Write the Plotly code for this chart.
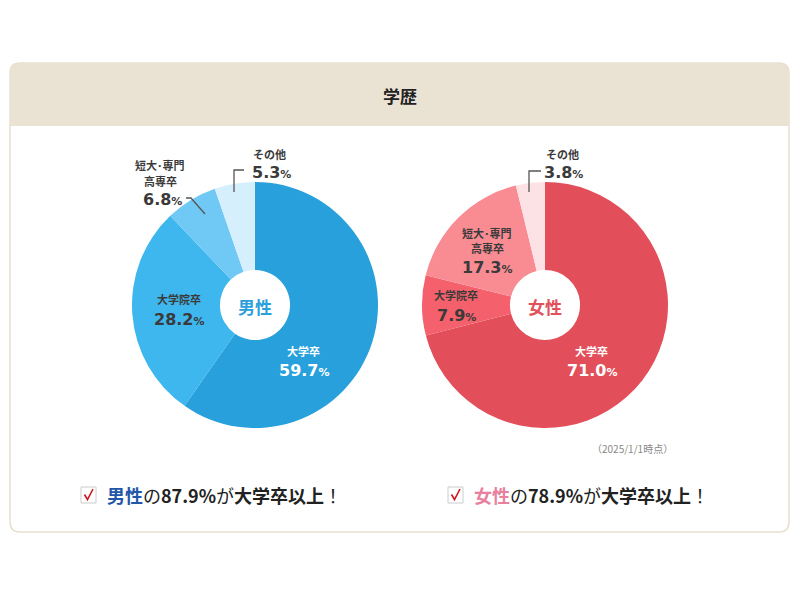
import plotly.graph_objects as go

# --- Data ---
CATEGORIES = ["大学卒", "大学院卒", "短大・専門高専卒", "その他"]
MALE_VALUES = [59.7, 28.2, 6.8, 5.3]
FEMALE_VALUES = [71.0, 7.9, 17.3, 3.8]
MALE_COLORS = ["#28A0DC", "#3EB6EE", "#70C8F5", "#D5EFFC"]
FEMALE_COLORS = ["#E24F5B", "#F4606B", "#F98B93", "#FDE2E5"]
MALE_ABOVE = 87.9    # 大学卒以上
FEMALE_ABOVE = 78.9
AS_OF = "（2025/1/1時点）"
TITLE = "学歴"

# page body has an 8px margin, so the figure is a bit smaller than the window
OFF = 8
W, H = 800 - 2 * OFF, 600 - 2 * OFF
FONT = "Noto Sans CJK JP"
NUM_FONT = "DejaVu Sans"
DARK = "#3a3a3a"


def px(x):
    return (x - OFF) / W


def py(y):
    return 1 - (y - OFF) / H


def domain(cx, cy, r):
    return dict(x=[px(cx - r), px(cx + r)], y=[py(cy + r), py(cy - r)])


def rounded_path(x0, y0, x1, y1, r, top_only=False):
    # rounded rectangle in window pixel coords -> paper coords
    p = [f"M {px(x0 + r)} {py(y0)}", f"L {px(x1 - r)} {py(y0)}",
         f"Q {px(x1)} {py(y0)} {px(x1)} {py(y0 + r)}"]
    if top_only:
        p += [f"L {px(x1)} {py(y1)}", f"L {px(x0)} {py(y1)}"]
    else:
        p += [f"L {px(x1)} {py(y1 - r)}", f"Q {px(x1)} {py(y1)} {px(x1 - r)} {py(y1)}",
              f"L {px(x0 + r)} {py(y1)}", f"Q {px(x0)} {py(y1)} {px(x0)} {py(y1 - r)}"]
    p += [f"L {px(x0)} {py(y0 + r)}", f"Q {px(x0)} {py(y0)} {px(x0 + r)} {py(y0)}", "Z"]
    return " ".join(p)


fig = go.Figure()

PIES = [
    (MALE_VALUES, MALE_COLORS, 255, 305),
    (FEMALE_VALUES, FEMALE_COLORS, 545, 305),
]
for vals, cols, cx, cy in PIES:
    fig.add_trace(go.Pie(
        labels=CATEGORIES, values=vals, sort=False, direction="clockwise",
        rotation=0, hole=0.285, textinfo="none",
        marker=dict(colors=cols, line=dict(width=0)),
        domain=domain(cx, cy, 123), showlegend=False,
        hovertemplate="%{label}: %{value}%<extra></extra>",
    ))

shapes = [
    dict(type="path", path=rounded_path(10, 63, 789, 532, 10), xref="paper", yref="paper",
         fillcolor="white", line=dict(color="#E8DFCF", width=1.5), layer="below"),
    dict(type="path", path=rounded_path(10, 63, 789, 126, 10, top_only=True), xref="paper", yref="paper",
         fillcolor="#EAE2D3", line=dict(width=0), layer="below"),
]

annotations = []


def ann(x, y, text, size, color=DARK, xanchor="center", bold=True, family=FONT):
    annotations.append(dict(
        x=px(x), y=py(y), xref="paper", yref="paper", text=f"<b>{text}</b>" if bold else text,
        showarrow=False, xanchor=xanchor, yanchor="middle",
        font=dict(family=family, size=size, color=color),
    ))


def pct(x, y, v, color=DARK, size=16):
    ann(x, y, f"{v:.1f}<span style='font-size:{int(size * 0.72)}px'>%</span>", size, color, family=NUM_FONT)


def leader(points):
    d = "M " + " L ".join(f"{px(x)} {py(y)}" for x, y in points)
    shapes.append(dict(type="path", path=d, xref="paper", yref="paper",
                       line=dict(color="#555555", width=1.3)))


# title
ann(400, 96, TITLE, 17, "#222222")

# male labels
ann(303, 351, "大学卒", 11, "white")
pct(304, 370, MALE_VALUES[0], "white")
ann(179, 299, "大学院卒", 11)
pct(179, 319, MALE_VALUES[1])
ann(160, 165, "短大･専門", 11)
ann(160, 181, "高専卒", 11)
pct(162, 199, MALE_VALUES[2])
ann(269, 154, "その他", 11)
pct(271, 173, MALE_VALUES[3])
leader([(186, 198), (191, 198), (205, 214)])
leader([(234, 192), (234, 170), (244, 170)])
ann(255, 306, "男性", 17, "#2A9FDB")

# female labels
ann(591, 351, "大学卒", 11, "white")
pct(592, 370, FEMALE_VALUES[0], "white")
ann(456, 295, "大学院卒", 11)
pct(456, 315, FEMALE_VALUES[1])
ann(487, 233, "短大･専門", 11)
ann(487, 248, "高専卒", 11)
pct(487, 267, FEMALE_VALUES[2])
ann(562, 154, "その他", 11)
pct(563, 173, FEMALE_VALUES[3])
leader([(529, 192), (529, 171), (541, 171)])
ann(545, 306, "女性", 17, "#E2505C")

ann(632, 448, AS_OF, 10, "#888888", bold=False)

# summary lines with checkbox
for bx, who, who_col, v in [(81, "男性", "#2356A8", MALE_ABOVE), (448, "女性", "#E8809E", FEMALE_ABOVE)]:
    shapes.append(dict(type="rect", xref="paper", yref="paper",
                       x0=px(bx), x1=px(bx + 15), y0=py(503), y1=py(487),
                       line=dict(color="#CCCCCC", width=1), fillcolor="white"))
    shapes.append(dict(type="path", xref="paper", yref="paper",
                       path=f"M {px(bx + 3.5)} {py(494.5)} L {px(bx + 6.5)} {py(499.5)} L {px(bx + 12)} {py(489)}",
                       line=dict(color="#D0161E", width=1.6)))
    text = (f"<span style='color:{who_col}'><b>{who}</b></span>の<b>{v:.1f}%</b>が"
            f"<b>大学卒以上</b>！")
    annotations.append(dict(x=px(bx + 24), y=py(495), xref="paper", yref="paper", text=text,
                            showarrow=False, xanchor="left", yanchor="middle",
                            font=dict(family=FONT, size=18, color="#222222")))

fig.update_layout(
    width=W, height=H, margin=dict(l=0, r=0, t=0, b=0),
    paper_bgcolor="white", plot_bgcolor="white",
    shapes=shapes, annotations=annotations,
)

fig.write_html("out.html")
